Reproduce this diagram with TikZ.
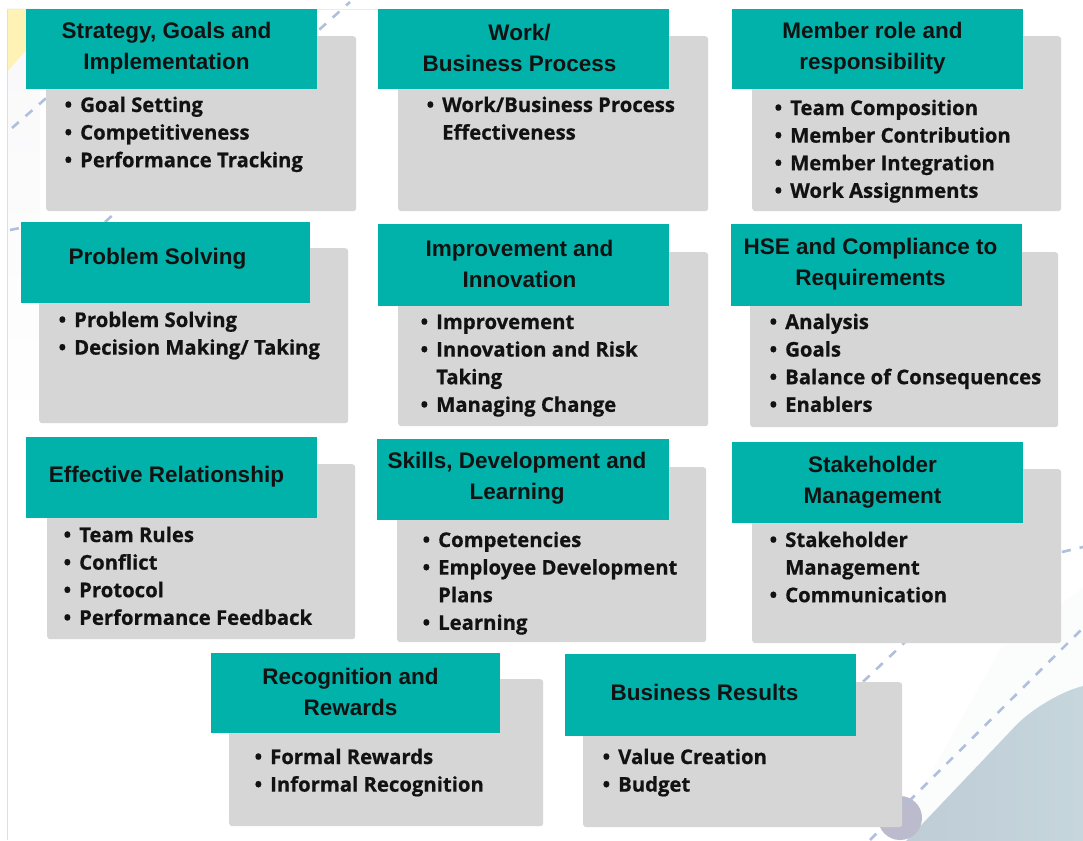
\documentclass[tikz,border=0pt]{standalone}
\usepackage{fontspec}
\setmainfont{Liberation Sans}
\newfontfamily\bulfont[FakeBold=0.6]{Open Sans}
\usetikzlibrary{positioning}
\definecolor{tealc}{RGB}{0,178,169}
\definecolor{grayc}{RGB}{214,214,214}
\definecolor{dashc}{RGB}{176,192,220}
\definecolor{inkc}{RGB}{18,18,18}
\definecolor{blobc}{RGB}{188,202,212}
\definecolor{blobd}{RGB}{205,222,226}
\definecolor{lavc}{RGB}{170,170,192}
\tikzset{
  graybox/.style={fill=grayc, draw=none, rounded corners=3pt, inner sep=0pt, anchor=north west},
  tealbox/.style={fill=tealc, draw=none, inner sep=0pt},
  titletext/.style={font=\bfseries\fontsize{22.5}{31}\selectfont, text=inkc, align=center, inner sep=0pt},
  bullist/.style={font=\bulfont\bfseries\fontsize{20.3}{27.6}\selectfont, text=inkc, align=left, inner sep=0pt, anchor=base west},
  bgdash/.style={draw=dashc, line width=2.6pt, dash pattern=on 9pt off 9pt}
}
\newcommand\bi{\llap{\textbullet\hskip 8pt}}
\begin{document}
\begin{tikzpicture}[x=1pt,y=-1pt]
\useasboundingbox (0,0) rectangle (1083,840);
\fill[white] (0,0) rectangle (1083,840);
% ---------- background decoration ----------
\begin{scope}
\clip (0,0) rectangle (1083,840);
\shade[top color=white!92!lavc, bottom color=white] (7,9) rectangle (40,430);
\fill[yellow!22!white!92!orange] (7,9) -- (28,9) -- (28,48) -- (7,72) -- cycle;
\draw[gray!25, line width=0.8pt] (7,9) -- (7,840);
\draw[gray!15, line width=0.8pt] (7,9) -- (380,9);
\fill[white!94!blobc] (1000,650) -- (1200,500) -- (1200,900) -- (860,900) -- cycle;
\shade[left color=blobc, right color=blobd, rounded corners=38pt]
  (1240,640) -- (1042,698) -- (850,900) -- (1240,900) -- cycle;
\fill[lavc!80!white] (900,818) circle (22);
\path[bgdash] (12,128) -- (60,86);
\path[bgdash] (105,222) -- (350,2);
\path[bgdash] (10,230) -- (30,226);
\path[bgdash] (850,694) -- (920,628);
\path[bgdash] (870,840) -- (1095,616);
\path[bgdash] (1062,552) -- (1083,547);
\end{scope}
% ---------- gray boxes ----------
\node[graybox, minimum width=310pt, minimum height=175pt] (g1) at (46,36) {};
\node[graybox, minimum width=310pt, minimum height=175pt] (g2) at (398,36) {};
\node[graybox, minimum width=309pt, minimum height=175pt] (g3) at (752,36) {};
\node[graybox, minimum width=309pt, minimum height=175pt] (g4) at (39,248) {};
\node[graybox, minimum width=310pt, minimum height=174pt] (g5) at (398,252) {};
\node[graybox, minimum width=308pt, minimum height=175pt] (g6) at (750,252) {};
\node[graybox, minimum width=308pt, minimum height=175pt] (g7) at (47,464) {};
\node[graybox, minimum width=309pt, minimum height=175pt] (g8) at (397,467) {};
\node[graybox, minimum width=309pt, minimum height=174pt] (g9) at (752,469) {};
\node[graybox, minimum width=314pt, minimum height=147pt] (g10) at (229,679) {};
\node[graybox, minimum width=319pt, minimum height=145pt] (g11) at (583,682) {};
% ---------- teal headers ----------
\node[tealbox, minimum width=291pt, minimum height=80pt] (t1) at (171.5,49) {};
\node[tealbox, minimum width=291pt, minimum height=80pt] (t2) at (523.5,49) {};
\node[tealbox, minimum width=291pt, minimum height=80pt] (t3) at (877.5,49) {};
\node[tealbox, minimum width=289pt, minimum height=81pt] (t4) at (165.5,262.5) {};
\node[tealbox, minimum width=291pt, minimum height=82pt] (t5) at (523.5,265) {};
\node[tealbox, minimum width=291pt, minimum height=82pt] (t6) at (876.5,265) {};
\node[tealbox, minimum width=291pt, minimum height=81pt] (t7) at (171.5,477.5) {};
\node[tealbox, minimum width=292pt, minimum height=81pt] (t8) at (523,479.5) {};
\node[tealbox, minimum width=291pt, minimum height=81pt] (t9) at (877.5,482.5) {};
\node[tealbox, minimum width=289pt, minimum height=80pt] (t10) at (355.5,693) {};
\node[tealbox, minimum width=291pt, minimum height=82pt] (t11) at (710.5,695) {};
% ---------- titles ----------
\node[titletext] (h1) at ([xshift=-5pt,yshift=1pt]t1.center) {Strategy, Goals and\\Implementation};
\node[titletext] (h2) at ([xshift=-4pt,yshift=1pt]t2.center) {Work/\\Business Process};
\node[titletext] (h3) at ([xshift=-5pt,yshift=1pt]t3.center) {Member role and\\responsibility};
\node[titletext] (h4) at ([xshift=-8pt,yshift=4pt]t4.center) {Problem Solving};
\node[titletext] (h5) at ([xshift=-4pt,yshift=1pt]t5.center) {Improvement and\\Innovation};
\node[titletext] (h6) at ([xshift=-6pt,yshift=1pt]t6.center) {HSE and Compliance to\\Requirements};
\node[titletext] (h7) at ([xshift=-5pt,yshift=1pt]t7.center) {Effective Relationship};
\node[titletext] (h8) at ([xshift=-6pt,yshift=1pt]t8.center) {Skills, Development and\\Learning};
\node[titletext] (h9) at ([xshift=-5pt,yshift=0pt]t9.center) {Stakeholder\\Management};
\node[titletext] (h10) at ([xshift=-5pt,yshift=1pt]t10.center) {Recognition and\\Rewards};
\node[titletext] (h11) at ([xshift=-6pt,yshift=3pt]t11.center) {Business Results};
% ---------- bullet lists (anchored at the baseline of the last line) ----------
\node[bullist] (l1) at (80,167.2) {\bi Goal Setting\\\bi Competitiveness\\\bi Performance Tracking};
\node[bullist] (l2) at (442,139.6) {\bi Work/Business Process\\Effectiveness};
\node[bullist] (l3) at (790,197.8) {\bi Team Composition\\\bi Member Contribution\\\bi Member Integration\\\bi Work Assignments};
\node[bullist] (l4) at (74,354.6) {\bi Problem Solving\\\bi Decision Making/ Taking};
\node[bullist] (l5) at (436,411.8) {\bi Improvement\\\bi Innovation and Risk\\Taking\\\bi Managing Change};
\node[bullist] (l6) at (785,411.8) {\bi Analysis\\\bi Goals\\\bi Balance of Consequences\\\bi Enablers};
\node[bullist] (l7) at (79,624.8) {\bi Team Rules\\\bi Conflict\\\bi Protocol\\\bi Performance Feedback};
\node[bullist] (l8) at (438,629.8) {\bi Competencies\\\bi Employee Development\\Plans\\\bi Learning};
\node[bullist] (l9) at (785,602.2) {\bi Stakeholder\\Management\\\bi Communication};
\node[bullist] (l10) at (270,791.6) {\bi Formal Rewards\\\bi Informal Recognition};
\node[bullist] (l11) at (618,791.6) {\bi Value Creation\\\bi Budget};
\end{tikzpicture}
\end{document}
